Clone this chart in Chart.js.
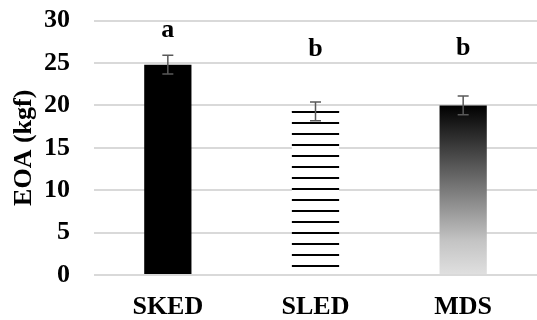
<!DOCTYPE html>
<html>
<head>
<meta charset="utf-8">
<script src="https://cdn.jsdelivr.net/npm/chart.js@4/dist/chart.umd.min.js"></script>
<style>
html,body{margin:0;padding:0;background:#fff;}
#wrap{width:537px;height:320px;}
</style>
</head>
<body>
<div id="wrap"><canvas id="c" width="537" height="320"></canvas></div>
<script>
const categories = ["SKED", "SLED", "MDS"];
const eoaValues = [24.8, 19.3, 20.0];
const eoaErrors = [1.1, 1.1, 1.1];
const sigLetters = ["a", "b", "b"];
const letterValues = [28.9, 26.6, 26.7];
const yTicks = [0, 5, 10, 15, 20, 25, 30];

const FONT = "'Liberation Serif','Times New Roman',serif";

function stripePattern(ctx) {
  const c = document.createElement('canvas');
  c.width = 8; c.height = 11;
  const g = c.getContext('2d');
  g.fillStyle = '#fff';
  g.fillRect(0, 0, 8, 11);
  g.fillStyle = '#000';
  g.fillRect(0, 1, 8, 2);
  return ctx.createPattern(c, 'repeat');
}

function fillFor(context) {
  const chart = context.chart;
  const ctx = chart.ctx;
  const area = chart.chartArea;
  const i = context.dataIndex;
  if (i === 0) return '#000';
  if (i === 1) return stripePattern(ctx);
  if (!area) return '#888';
  const y = chart.scales.y;
  const top = y.getPixelForValue(eoaValues[2]);
  const bot = y.getPixelForValue(0);
  const gr = ctx.createLinearGradient(0, top, 0, bot);
  gr.addColorStop(0, '#000');
  gr.addColorStop(0.8, '#c4c4c4');
  gr.addColorStop(1, '#e0e0e0');
  return gr;
}

const overlay = {
  id: 'overlay',
  afterDatasetsDraw(chart) {
    const ctx = chart.ctx;
    const x = chart.scales.x, y = chart.scales.y;
    const meta = chart.getDatasetMeta(0);
    ctx.save();
    const b1 = meta.data[1];
    ctx.strokeStyle = '#000';
    ctx.lineWidth = 1;
    ctx.beginPath();
    ctx.moveTo(b1.x - b1.width / 2, Math.round(b1.y) + 0.5);
    ctx.lineTo(b1.x + b1.width / 2, Math.round(b1.y) + 0.5);
    ctx.stroke();
    ctx.strokeStyle = '#595959';
    ctx.lineWidth = 1.5;
    categories.forEach((cat, i) => {
      const cx = x.getPixelForValue(i);
      const yt = y.getPixelForValue(eoaValues[i] + eoaErrors[i]);
      const yb = y.getPixelForValue(eoaValues[i] - eoaErrors[i]);
      ctx.beginPath();
      ctx.moveTo(cx, yt); ctx.lineTo(cx, yb);
      ctx.moveTo(cx - 5.5, yt); ctx.lineTo(cx + 5.5, yt);
      ctx.moveTo(cx - 5.5, yb); ctx.lineTo(cx + 5.5, yb);
      ctx.stroke();
    });
    ctx.fillStyle = '#000';
    ctx.font = "bold 26px " + FONT;
    ctx.textAlign = 'center';
    ctx.textBaseline = 'middle';
    sigLetters.forEach((l, i) => {
      ctx.fillText(l, x.getPixelForValue(i), y.getPixelForValue(letterValues[i]));
    });
    ctx.restore();
  }
};

new Chart(document.getElementById('c'), {
  type: 'bar',
  data: {
    labels: categories,
    datasets: [{
      data: eoaValues,
      backgroundColor: fillFor,
      borderWidth: 0,
      barPercentage: 0.32,
      categoryPercentage: 1
    }]
  },
  options: {
    responsive: false,
    animation: false,
    devicePixelRatio: 1,
    layout: { padding: 0 },
    plugins: { legend: { display: false }, tooltip: { enabled: false } },
    scales: {
      x: {
        grid: { display: false, drawTicks: false },
        border: { display: false },
        ticks: { color: '#000', font: { family: FONT, size: 26, weight: 'bold' }, padding: 17 },
        afterFit(s) { s.height = 45; }
      },
      y: {
        min: 0, max: 30,
        ticks: { stepSize: 5, callback: (v) => yTicks.includes(v) ? String(v) : '', color: '#000', font: { family: FONT, size: 26, weight: 'bold' }, padding: 5 },
        grid: { color: '#d9d9d9', lineWidth: 2, drawTicks: true, tickLength: 19, tickColor: 'rgba(0,0,0,0)' },
        border: { display: false },
        title: { display: true, text: 'EOA (kgf)', color: '#000', font: { family: FONT, size: 26, weight: 'bold' }, padding: { top: 9, bottom: 0 } },
        afterFit(s) { s.width = 94; }
      }
    }
  },
  plugins: [overlay]
});
</script>
</body>
</html>
